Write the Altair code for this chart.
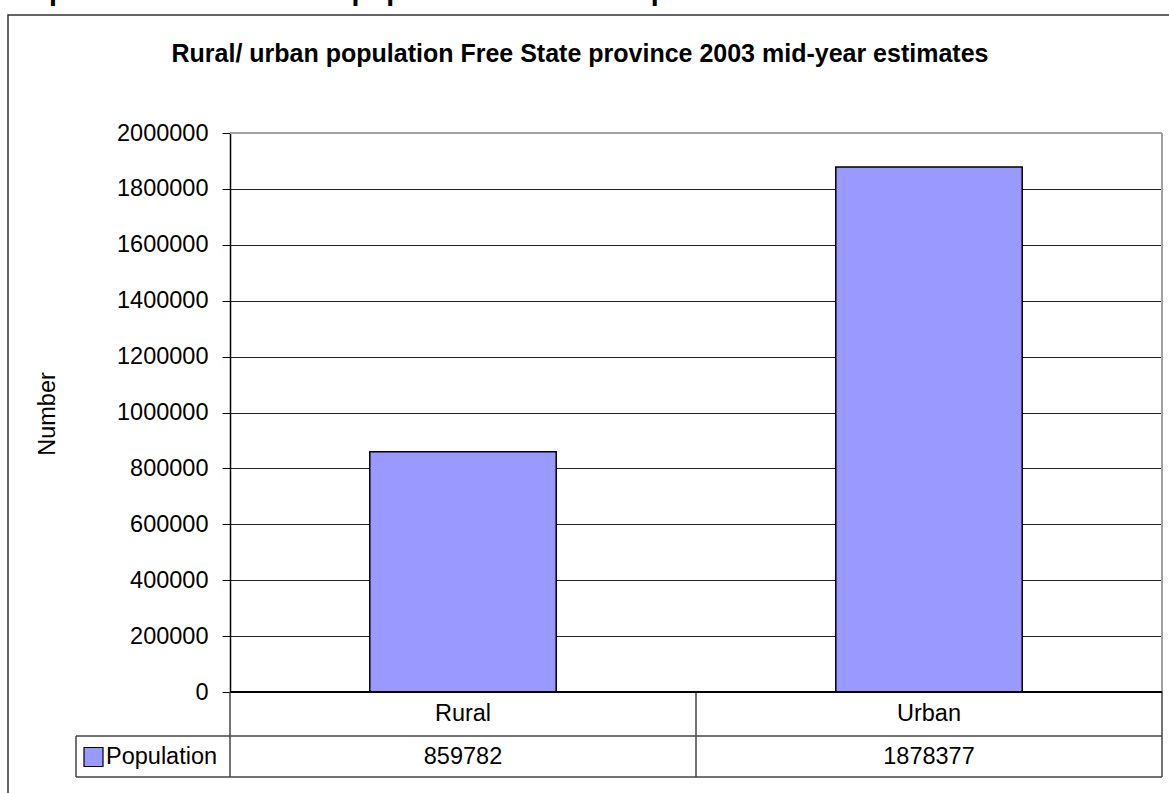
import altair as alt
import pandas as pd

categories = ["Rural", "Urban"]
population = [859782, 1878377]
y_ticks = [0, 200000, 400000, 600000, 800000, 1000000, 1200000, 1400000, 1600000, 1800000, 2000000]
chart_title = "Rural/ urban population Free State province 2003 mid-year estimates"
page_heading = "Graph 3: Rural and urban population Free State province"
series_name = "Population"
y_title = "Number"

df = pd.DataFrame({"category": categories, "value": population})
one = pd.DataFrame({"k": [0]})

FONT = "Liberation Sans, Arial, sans-serif"
W, H = 932, 559
BAR = "#9999FF"

xscale = alt.Scale(domain=categories, paddingInner=0, paddingOuter=0)
xenc = alt.X("category:N", scale=xscale, axis=None)

base = alt.Chart(df)

bars = base.mark_bar(width=alt.RelativeBandSize(0.4), color=BAR, stroke="black", strokeWidth=1.5).encode(
    x=xenc,
    y=alt.Y(
        "value:Q",
        scale=alt.Scale(domain=[0, 2000000], nice=False),
        axis=alt.Axis(
            values=y_ticks, format="d", title=None, grid=True, gridColor="#222222", gridWidth=1,
            labelFontSize=23.5, labelFont=FONT, labelColor="black", labelPadding=14,
            tickSize=8, tickColor="black", tickWidth=1, domainColor="black", domainWidth=1.5,
        ),
    ),
)

def rule(x1, x2, y1, y2, color="#444444", width=1.5):
    return alt.Chart(one).mark_rule(color=color, strokeWidth=width).encode(
        x=alt.value(x1), x2=alt.value(x2), y=alt.value(y1), y2=alt.value(y2)
    )

outer = alt.Chart(one).mark_rect(filled=False, stroke="#333333", strokeWidth=1.5).encode(
    x=alt.value(-222), x2=alt.value(980), y=alt.value(-118), y2=alt.value(700)
)

# plot area border (top/right gray)
top_border = rule(0, W, 0, 0, color="#a0a0a0", width=2)
right_border = rule(W, W, 0, H, color="#a0a0a0", width=2)

# table lines
R1 = H + 44
R2 = H + 85
split = W / 2
lines = [
    rule(0, W, R1, R1),
    rule(-154, 0, R1, R1),
    rule(-154, W, R2, R2),
    rule(-154, -154, R1, R2),
    rule(0, 0, H, R2),
    rule(split, split, H, R2),
    rule(W, W, H, R2),
]
zero_line = rule(0, W, H, H, color="black", width=2)

cat_text = base.mark_text(fontSize=23.5, font=FONT, color="black", baseline="middle").encode(
    x=xenc, y=alt.value(H + 22), text="category:N"
)
val_text = base.mark_text(fontSize=23.5, font=FONT, color="black", baseline="middle").encode(
    x=xenc, y=alt.value(H + 64.5), text=alt.Text("value:Q", format="d")
)

legend_sq = alt.Chart(one).mark_rect(color=BAR, stroke="black", strokeWidth=1.2).encode(
    x=alt.value(-146), x2=alt.value(-127), y=alt.value(H + 55.5), y2=alt.value(H + 74.5)
)
legend_txt = alt.Chart(pd.DataFrame({"t": [series_name]})).mark_text(
    fontSize=23.5, font=FONT, color="black", align="left", baseline="middle"
).encode(x=alt.value(-124), y=alt.value(H + 65), text="t:N")

title_txt = alt.Chart(pd.DataFrame({"t": [chart_title]})).mark_text(
    fontSize=25, font=FONT, fontWeight="bold", color="black", align="center", baseline="alphabetic"
).encode(x=alt.value(580 - 230), y=alt.value(62 - 133), text="t:N")

# page heading above the chart, cut off by the top edge as in the reference
heading_txt = alt.Chart(pd.DataFrame({"t": [page_heading]})).mark_text(
    fontSize=28.5, font=FONT, fontWeight="bold", color="black", align="left", baseline="alphabetic"
).encode(x=alt.value(-230), y=alt.value(-133), text="t:N")

ytitle_txt = alt.Chart(pd.DataFrame({"t": [y_title]})).mark_text(
    fontSize=23.5, font=FONT, color="black", align="center", baseline="middle", angle=270
).encode(x=alt.value(48 - 230), y=alt.value(414 - 133), text="t:N")

chart = alt.layer(
    outer, bars, top_border, right_border, *lines, zero_line,
    cat_text, val_text, legend_sq, legend_txt, title_txt, heading_txt, ytitle_txt,
).properties(
    width=W, height=H,
    autosize=alt.AutoSizeParams(type="none"),
    padding={"left": 230, "top": 133, "right": 7, "bottom": 101},
    background="white",
).configure_view(stroke=None)

chart.save("out.html", embed_options={"renderer": "svg", "actions": False})
